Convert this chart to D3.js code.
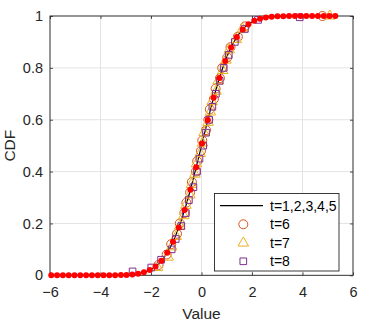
<!DOCTYPE html>
<html>
<head>
<meta charset="utf-8">
<script src="https://cdn.jsdelivr.net/npm/d3@7"></script>
<style>
  body { margin: 0; background: #fff; }
  svg { display: block; font-family: "Liberation Sans", Arial, sans-serif; }
</style>
</head>
<body>
<svg id="chart" width="373" height="332"></svg>
<script>
// reference CDF (black line + red dots)
var refX = [-5.95, -5.72, -5.49, -5.26, -5.03, -4.80, -4.57, -4.34, -4.11, -3.88,
            -3.65, -3.42, -3.19, -2.97, -2.74, -2.51, -2.28, -2.05, -1.82, -1.59,
            -1.36, -1.13, -0.90, -0.67, -0.44, -0.21, 0.02, 0.25, 0.48, 0.71,
            0.94, 1.17, 1.40, 1.63, 1.86, 2.09, 2.32, 2.55, 2.78, 3.01,
            3.24, 3.47, 3.70, 3.92, 4.15, 4.38, 4.61, 4.84, 5.07, 5.30];
var refY = [0, 0, 0, 0, 0, 0, 0, 0, 0, 0.0001,
            0.0001, 0.0003, 0.0007, 0.0015, 0.0031, 0.0060, 0.0113, 0.0202, 0.0344, 0.0559,
            0.0869, 0.1292, 0.1841, 0.2514, 0.3300, 0.4168, 0.5080, 0.5987, 0.6844, 0.7611,
            0.8264, 0.8790, 0.9192, 0.9484, 0.9686, 0.9817, 0.9898, 0.9946, 0.9973, 0.9987,
            0.9994, 0.9997, 0.9999, 1, 1, 1, 1, 1, 1, 1];

// t=6 (circles)
var t6X = [-1.70, -1.38, -1.20, -0.97, -0.86, -0.68, -0.60, -0.45, -0.38, -0.22,
           -0.17, -0.02, 0.03, 0.18, 0.27, 0.33, 0.49, 0.56, 0.73, 0.82,
           1.02, 1.15, 1.44, 1.72, 4.79];
var t6Y = [0.04, 0.08, 0.12, 0.16, 0.20, 0.24, 0.28, 0.32, 0.36, 0.40,
           0.44, 0.48, 0.52, 0.56, 0.60, 0.64, 0.68, 0.72, 0.76, 0.80,
           0.84, 0.88, 0.92, 0.96, 1.00];

// t=7 (triangles)
var t7X = [-1.74, -1.32, -1.18, -1.00, -0.86, -0.70, -0.62, -0.46, -0.40, -0.26,
           -0.20, -0.05, 0.04, 0.10, 0.26, 0.35, 0.42, 0.58, 0.66, 0.84,
           0.97, 1.10, 1.38, 1.62, 5.08];
var t7Y = [0.03, 0.07, 0.11, 0.15, 0.19, 0.23, 0.27, 0.31, 0.35, 0.39,
           0.43, 0.47, 0.51, 0.55, 0.59, 0.63, 0.67, 0.71, 0.75, 0.79,
           0.83, 0.87, 0.91, 0.95, 1.00];

// t=8 (squares)
var t8X = [-2.73, -1.99, -1.60, -1.18, -1.02, -0.80, -0.62, -0.50, -0.32, -0.18,
           -0.08, 0.07, 0.18, 0.30, 0.43, 0.57, 0.72, 0.88, 1.08, 1.32,
           1.72, 2.24, 3.89];
var t8Y = [0.015, 0.03, 0.06, 0.10, 0.14, 0.19, 0.24, 0.29, 0.34, 0.40,
           0.45, 0.50, 0.55, 0.60, 0.65, 0.70, 0.75, 0.80, 0.85, 0.90,
           0.95, 0.985, 0.995];

var xTicks = [-6, -4, -2, 0, 2, 4, 6];
var yTicks = [0, 0.2, 0.4, 0.6, 0.8, 1];
var legendLabels = ["t=1,2,3,4,5", "t=6", "t=7", "t=8"];

var box = { left: 50, right: 353, top: 16, bottom: 275.3 };
var axisColor = "#262626", gridColor = "#e3e3e3";
var c6 = "#D95319", c7 = "#EDB120", c8 = "#7E2F8E";

var svg = d3.select("#chart");
var x = d3.scaleLinear().domain([-6, 6]).range([box.left, box.right]);
var y = d3.scaleLinear().domain([0, 1]).range([box.bottom, box.top]);

function pairs(xs, ys) {
  return xs.map(function(v, i) { return [v, ys[i]]; });
}

// grid
var grid = svg.append("g");
grid.selectAll(".gx").data(xTicks).enter().append("line")
  .attr("x1", function(d) { return x(d); }).attr("x2", function(d) { return x(d); })
  .attr("y1", box.top).attr("y2", box.bottom)
  .attr("stroke", gridColor).attr("stroke-width", 1);
grid.selectAll(".gy").data(yTicks).enter().append("line")
  .attr("y1", function(d) { return y(d); }).attr("y2", function(d) { return y(d); })
  .attr("x1", box.left).attr("x2", box.right)
  .attr("stroke", gridColor).attr("stroke-width", 1);

// axes (MATLAB-style: ticks inside, mirrored)
function styleAxis(g) {
  g.select(".domain").remove();
  g.selectAll(".tick line").attr("stroke", axisColor).attr("stroke-width", 0.8);
  g.selectAll(".tick text").attr("fill", axisColor).attr("font-size", 14.5)
    .attr("font-family", "Liberation Sans, Arial, sans-serif");
}
svg.append("g").attr("transform", "translate(0," + box.bottom + ")")
  .call(d3.axisBottom(x).tickValues(xTicks).tickSizeInner(-3).tickPadding(11)
    .tickFormat(d3.format("d")))
  .call(styleAxis);
svg.append("g").attr("transform", "translate(" + box.left + ",0)")
  .call(d3.axisLeft(y).tickValues(yTicks).tickSizeInner(-3).tickPadding(7)
    .tickFormat(function(d) { return d === 0 || d === 1 ? d3.format("d")(d) : d3.format(".1f")(d); }))
  .call(styleAxis);
svg.append("g").attr("transform", "translate(0," + box.top + ")")
  .call(d3.axisTop(x).tickValues(xTicks).tickSizeInner(-3).tickFormat(""))
  .call(styleAxis);
svg.append("g").attr("transform", "translate(" + box.right + ",0)")
  .call(d3.axisRight(y).tickValues(yTicks).tickSizeInner(-3).tickFormat(""))
  .call(styleAxis);

svg.append("rect")
  .attr("x", box.left).attr("y", box.top)
  .attr("width", box.right - box.left).attr("height", box.bottom - box.top)
  .attr("fill", "none").attr("stroke", axisColor).attr("stroke-width", 0.9);

// axis titles
svg.append("text").attr("x", (box.left + box.right) / 2).attr("y", 319)
  .attr("text-anchor", "middle").attr("font-size", 15.5).attr("fill", axisColor)
  .text("Value");
svg.append("text").attr("transform", "translate(15," + ((box.top + box.bottom) / 2) + ") rotate(-90)")
  .attr("text-anchor", "middle").attr("font-size", 15.5).attr("fill", axisColor)
  .text("CDF");

// data
var plot = svg.append("g");
plot.append("path").datum(pairs(refX, refY))
  .attr("fill", "none").attr("stroke", "#000").attr("stroke-width", 1.2)
  .attr("d", d3.line().x(function(d) { return x(d[0]); }).y(function(d) { return y(d[1]); })
    .curve(d3.curveMonotoneX));

plot.selectAll(".c6").data(pairs(t6X, t6Y)).enter().append("circle")
  .attr("cx", function(d) { return x(d[0]); }).attr("cy", function(d) { return y(d[1]); })
  .attr("r", 4.5).attr("fill", "none").attr("stroke", c6).attr("stroke-width", 1);

var tri = d3.symbol().type(d3.symbolTriangle).size(48);
plot.selectAll(".c7").data(pairs(t7X, t7Y)).enter().append("path")
  .attr("transform", function(d) { return "translate(" + x(d[0]) + "," + y(d[1]) + ")"; })
  .attr("d", tri).attr("fill", "none").attr("stroke", c7).attr("stroke-width", 1);

var sq = d3.symbol().type(d3.symbolSquare).size(44);
plot.selectAll(".c8").data(pairs(t8X, t8Y)).enter().append("path")
  .attr("transform", function(d) { return "translate(" + x(d[0]) + "," + y(d[1]) + ")"; })
  .attr("d", sq).attr("fill", "none").attr("stroke", c8).attr("stroke-width", 1);

plot.selectAll(".ref").data(pairs(refX, refY)).enter().append("circle")
  .attr("cx", function(d) { return x(d[0]); }).attr("cy", function(d) { return y(d[1]); })
  .attr("r", 3).attr("fill", "#ff0000");

// legend
var lg = svg.append("g");
lg.append("rect").attr("x", 214.5).attr("y", 193.5).attr("width", 124.5).attr("height", 77.5)
  .attr("fill", "#fff").attr("stroke", axisColor).attr("stroke-width", 0.9);
var rowY = [205.7, 224.3, 243, 261.3];
lg.selectAll("text").data(legendLabels).enter().append("text")
  .attr("x", 270).attr("y", function(d, i) { return rowY[i] + 5; })
  .attr("font-size", 14).attr("fill", "#000").text(function(d) { return d; });
lg.append("line").attr("x1", 220).attr("x2", 263).attr("y1", rowY[0]).attr("y2", rowY[0])
  .attr("stroke", "#000").attr("stroke-width", 1.2);
lg.append("circle").attr("cx", 243.3).attr("cy", rowY[1]).attr("r", 4.5)
  .attr("fill", "none").attr("stroke", c6).attr("stroke-width", 1);
lg.append("path").attr("transform", "translate(243.3," + rowY[2] + ")").attr("d", tri)
  .attr("fill", "none").attr("stroke", c7).attr("stroke-width", 1);
lg.append("path").attr("transform", "translate(243.3," + rowY[3] + ")").attr("d", sq)
  .attr("fill", "none").attr("stroke", c8).attr("stroke-width", 1);
</script>
</body>
</html>
